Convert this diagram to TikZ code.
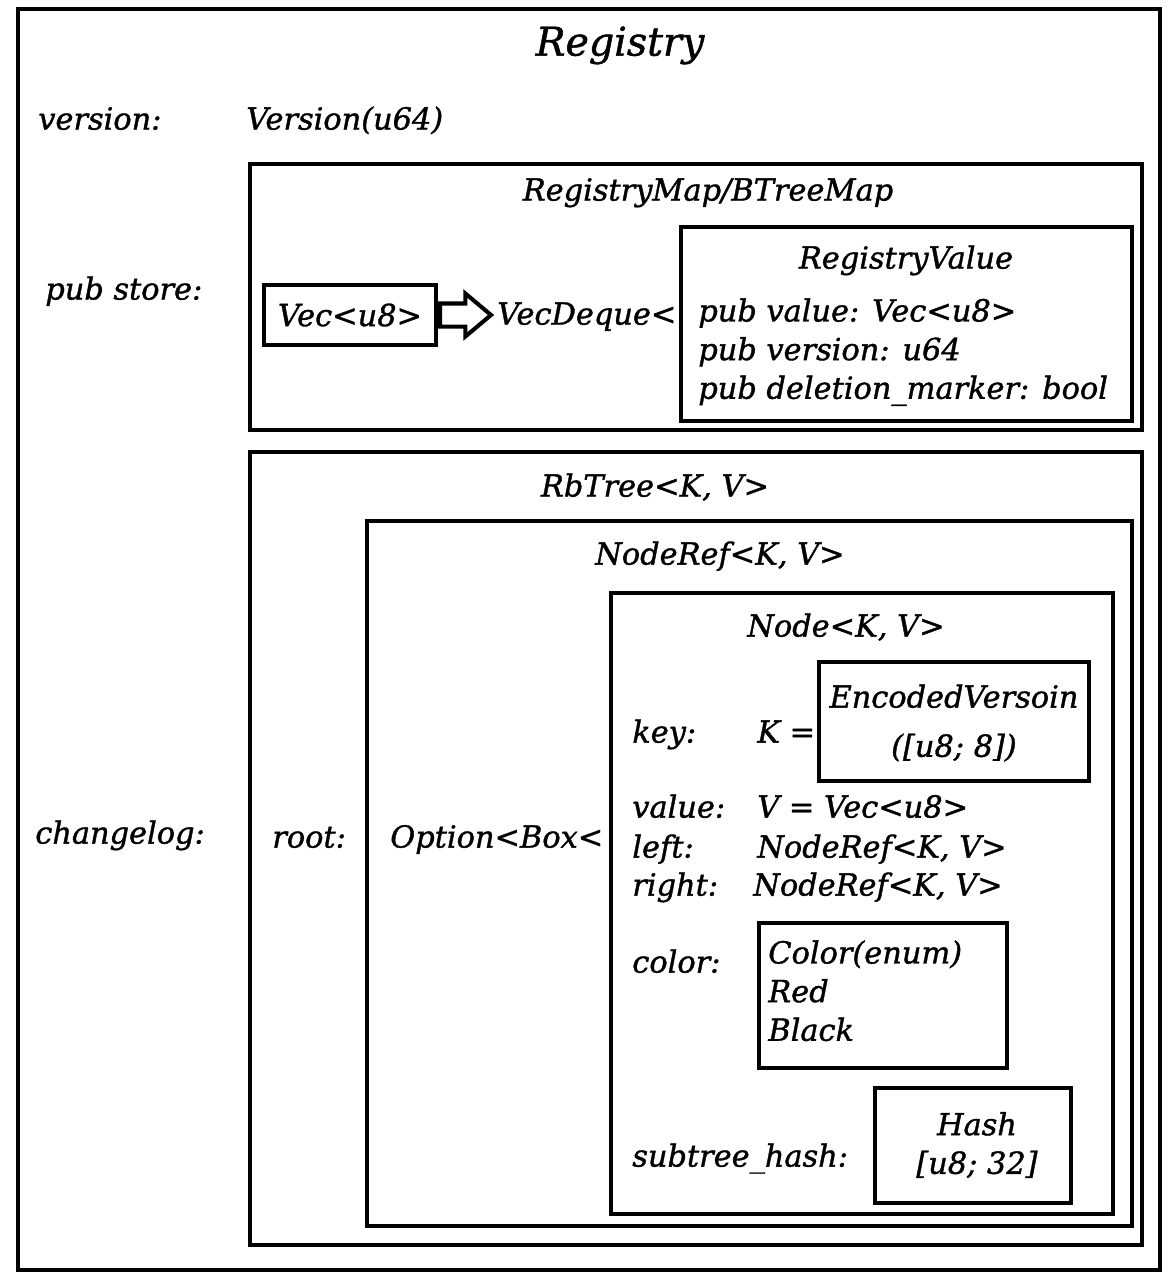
\documentclass[tikz,border=0pt]{standalone}
\usepackage{fontspec}
\setmainfont{DejaVu Serif}[FakeBold=1.2]
\usetikzlibrary{shapes.arrows}

\tikzset{
    frame/.style={line width=2.3pt},
    face/.style={inner sep=0pt, font=\fontsize{17.3}{22}\selectfont\itshape},
    txt/.style={face, yshift=-0.1cm},
    lbl/.style={txt, anchor=mid west},
    ttl/.style={txt, anchor=mid},
}

\begin{document}
\begin{tikzpicture}[x=0.02cm, y=-0.02cm]
    \useasboundingbox (0,0) rectangle (1168,1278);

    % frames
    \draw[frame] (18,9) rectangle (1160,1270);
    \draw[frame] (250,164) rectangle (1142,430);
    \draw[frame] (681,227) rectangle (1132,421);
    \draw[frame] (250,452) rectangle (1142,1245);
    \draw[frame] (367,521) rectangle (1132,1226);
    \draw[frame] (611,593) rectangle (1113,1214);
    \draw[frame] (819,662) rectangle (1089,781);
    \draw[frame] (759,923) rectangle (1007,1068);
    \draw[frame] (875,1088) rectangle (1071,1203);

    % top level
    \node[txt, anchor=mid, font=\fontsize{22.5}{26}\selectfont\itshape] (registry) at (620,46) {Registry};
    \node[lbl] (versionlbl) at (38,120) {version:};
    \node[lbl] (versiontype) at (246,120) {Version(u64)};
    \node[lbl] (storelbl) at (45,290) {pub store:};
    \node[lbl] (changeloglbl) at (35,834) {changelog:};

    % pub store
    \node[ttl] (regmap) at (708,191) {RegistryMap/BTreeMap};
    \node[face, draw, line width=2.3pt, minimum width=3.44cm, minimum height=1.2cm] (vec) at (350,315) {Vec<u8>};
    \node[draw, line width=2.3pt, single arrow, anchor=tail, inner sep=0.19cm, minimum height=1.02cm,
          single arrow head extend=0.2cm, single arrow tip angle=80] (arr) at (vec.east) {};
    \node[lbl] (vecdeque) at (497,315) {VecDeque<};
    \node[ttl] (regvalue) at (906,259) {RegistryValue};
    \node[txt, anchor=north west, align=left] (regfields) at (698,293)
        {pub value: Vec<u8>\\pub version: u64\\pub deletion\_marker: bool};

    % changelog
    \node[ttl] (rbtree) at (655,487) {RbTree<K, V>};
    \node[lbl] (rootlbl) at (272,838) {root:};
    \node[lbl] (option) at (390,838) {Option<Box<};
    \node[ttl] (noderef) at (720,555) {NodeRef<K, V>};
    \node[ttl] (node) at (846,627) {Node<K, V>};

    % node fields
    \node[lbl] (keylbl) at (632,733) {key:};
    \node[lbl] (keytype) at (757,733) {K =};
    \node[txt, align=center] (encoded) at (954,718) {EncodedVersoin\\[6pt]([u8; 8])};
    \node[lbl] (valuelbl) at (632,808) {value:};
    \node[lbl] (valuetype) at (757,808) {V = Vec<u8>};
    \node[lbl] (leftlbl) at (632,848) {left:};
    \node[lbl] (lefttype) at (757,848) {NodeRef<K, V>};
    \node[lbl] (rightlbl) at (632,886) {right:};
    \node[lbl] (righttype) at (753,886) {NodeRef<K, V>};
    \node[lbl] (colorlbl) at (632,963) {color:};
    \node[txt, anchor=north west, align=left] (colortype) at (768,935)
        {Color(enum)\\Red\\Black};
    \node[lbl] (hashlbl) at (632,1157) {subtree\_hash:};
    \node[txt, align=center] (hashtype) at (977,1140) {Hash\\{[u8; 32]}};
\end{tikzpicture}
\end{document}
